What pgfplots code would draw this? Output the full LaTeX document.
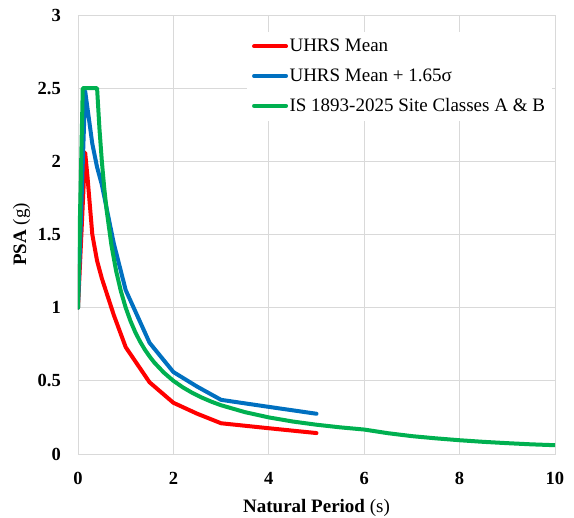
\documentclass[border=0pt]{standalone}
\usepackage{fontspec}
\setmainfont{Liberation Serif}
\usepackage{pgfplots}
\pgfplotsset{compat=1.18}
\definecolor{cred}{RGB}{255,0,0}
\definecolor{cblue}{RGB}{0,112,192}
\definecolor{cgreen}{RGB}{0,176,80}
\definecolor{cgrid}{RGB}{217,217,217}
\begin{document}
\begin{tikzpicture}
\begin{axis}[
  at={(0,0)}, anchor=south west,
  scale only axis, width=477pt, height=439pt,
  xmin=0, xmax=10, ymin=0, ymax=3,
  xtick={0,2,4,6,8,10},
  ytick={0,0.5,1,1.5,2,2.5,3},
  grid=major,
  grid style={cgrid, line width=0.9pt},
  axis line style={cgrid, line width=0.9pt},
  major tick length=0pt,
  /pgf/number format/assume math mode=true,
  tick label style={font=\fontsize{18.5}{22}\selectfont\bfseries, inner sep=0pt},
  xticklabel style={anchor=north, yshift=-18pt},
  yticklabel style={anchor=east, xshift=-17pt},
  xlabel={\textbf{Natural Period} (s)},
  ylabel={\textbf{PSA} (g)},
  label style={font=\fontsize{19}{23}\selectfont},
  xlabel style={at={(axis description cs:0.5,-0.1344)}, anchor=base},
  ylabel style={at={(axis description cs:-0.109,0.5)}, anchor=base},
  legend style={draw=none, fill=white, at={(axis description cs:0.354,0.962)}, anchor=north west,
    font=\fontsize{19}{23}\selectfont, row sep=12.5pt, inner xsep=5pt, inner ysep=6pt,
    nodes={inner sep=1.5pt}},
  legend cell align=left,
  legend image code/.code={\draw[#1, line width=4pt, line cap=round] (0pt,0pt) -- (32pt,0pt);},
  every axis plot/.append style={line width=4pt, line join=round, line cap=round},
]
\addplot[cred] coordinates {
 (0,1.0) (0.15,2.06) (0.2,1.89) (0.3,1.50) (0.4,1.32) (0.5,1.20) (0.75,0.95) (1,0.73)
 (1.5,0.49) (2,0.35) (2.5,0.275) (3,0.21) (4,0.176) (5,0.143)
};
\addlegendentry{UHRS Mean}
\addplot[cblue] coordinates {
 (0,1.0) (0.15,2.48) (0.2,2.36) (0.3,2.12) (0.4,1.96) (0.5,1.84) (0.75,1.44) (1,1.12)
 (1.5,0.76) (2,0.56) (2.5,0.46) (3,0.37) (4,0.322) (5,0.275)
};
\addlegendentry{UHRS Mean + 1.65σ}
\addplot[cgreen] coordinates {
 (0,1.0) (0.1,2.5) (0.4,2.5) (0.45,2.222) (0.5,2.0) (0.55,1.818) (0.6,1.667) (0.7,1.429)
 (0.8,1.25) (0.9,1.111) (1.0,1.0) (1.1,0.909) (1.2,0.833) (1.3,0.769) (1.4,0.714)
 (1.5,0.667) (1.6,0.625) (1.8,0.556) (2.0,0.5) (2.2,0.455) (2.4,0.417) (2.6,0.385)
 (2.8,0.357) (3.0,0.333) (3.5,0.286) (4,0.25) (4.5,0.222) (5,0.2) (5.5,0.182) (6,0.167)
 (6.5,0.142) (7,0.122) (7.5,0.107) (8,0.094) (8.5,0.083) (9,0.074) (9.5,0.066) (10,0.06)
};
\addlegendentry{IS 1893-2025 Site Classes A \& B}
\end{axis}
\pgfresetboundingbox
\path (-78pt,-64pt) rectangle (496pt,454pt);
\end{tikzpicture}
\end{document}
